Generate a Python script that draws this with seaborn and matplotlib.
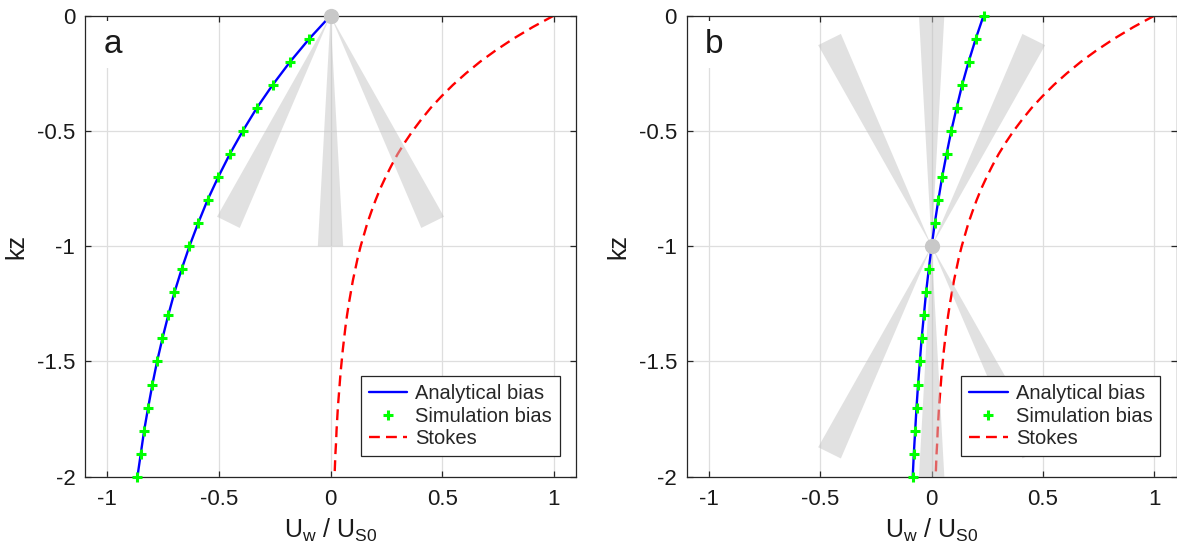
import numpy as np
import pandas as pd
import matplotlib
matplotlib.use("Agg")
import matplotlib.pyplot as plt
from matplotlib.lines import Line2D
import seaborn as sns

# ---- data -------------------------------------------------------------
# depth (kz) at which the bias is evaluated
kz = [0.0, -0.1, -0.2, -0.3, -0.4, -0.5, -0.6, -0.7, -0.8, -0.9, -1.0,
      -1.1, -1.2, -1.3, -1.4, -1.5, -1.6, -1.7, -1.8, -1.9, -2.0]

# panel a: sensor at the surface
bias_a = [0.000, -0.095, -0.181, -0.259, -0.330, -0.393, -0.451, -0.503,
          -0.551, -0.593, -0.632, -0.667, -0.699, -0.727, -0.753, -0.777,
          -0.798, -0.817, -0.835, -0.850, -0.865]
sim_a = [0.000, -0.095, -0.181, -0.259, -0.330, -0.393, -0.451, -0.503,
         -0.551, -0.593, -0.632, -0.667, -0.699, -0.727, -0.753, -0.777,
         -0.798, -0.817, -0.835, -0.850, -0.865]

# panel b: sensor at kz = -1
bias_b = [0.233, 0.198, 0.166, 0.137, 0.112, 0.088, 0.067, 0.047, 0.030,
          0.014, 0.000, -0.013, -0.025, -0.035, -0.045, -0.053, -0.061,
          -0.068, -0.074, -0.080, -0.085]
sim_b = [0.233, 0.198, 0.166, 0.137, 0.112, 0.088, 0.067, 0.047, 0.030,
         0.014, 0.000, -0.013, -0.025, -0.035, -0.045, -0.053, -0.061,
         -0.068, -0.074, -0.080, -0.085]

# Stokes drift profile
kz_stokes = [0.0, -0.05, -0.1, -0.15, -0.2, -0.25, -0.3, -0.35, -0.4, -0.45,
             -0.5, -0.55, -0.6, -0.65, -0.7, -0.75, -0.8, -0.85, -0.9, -0.95,
             -1.0, -1.05, -1.1, -1.15, -1.2, -1.25, -1.3, -1.35, -1.4, -1.45,
             -1.5, -1.55, -1.6, -1.65, -1.7, -1.75, -1.8, -1.85, -1.9, -1.95,
             -2.0]
stokes = [1.000, 0.905, 0.819, 0.741, 0.670, 0.607, 0.549, 0.497, 0.449,
          0.407, 0.368, 0.333, 0.301, 0.273, 0.247, 0.223, 0.202, 0.183,
          0.165, 0.150, 0.135, 0.122, 0.111, 0.100, 0.091, 0.082, 0.074,
          0.067, 0.061, 0.055, 0.050, 0.045, 0.041, 0.037, 0.033, 0.030,
          0.027, 0.025, 0.022, 0.020, 0.018]

panel_labels = ["a", "b"]
sensor_depth = [0.0, -1.0]
legend_labels = ["Analytical bias", "Simulation bias", "Stokes"]
xtick_vals = [-1, -0.5, 0, 0.5, 1]
xtick_text = ["-1", "-0.5", "0", "0.5", "1"]
ytick_vals = [0, -0.5, -1, -1.5, -2]
ytick_text = ["0", "-0.5", "-1", "-1.5", "-2"]

# ---- style ------------------------------------------------------------
sns.set_theme(style="ticks")
plt.rcParams["font.family"] = ["Liberation Sans", "DejaVu Sans"]
plt.rcParams["mathtext.default"] = "regular"
plt.rcParams["axes.unicode_minus"] = False

BLUE = "#0000ff"
GREEN = "#00ff00"
RED = "#ff0000"
AXC = "#262626"
TXT = "#1a1a1a"

fig = plt.figure(figsize=(11.77, 5.52), dpi=100)
axes = [fig.add_axes([0.0722, 0.1364, 0.4172, 0.8352]),
        fig.add_axes([0.5834, 0.1364, 0.4163, 0.8352])]

XLIM = (-1.1, 1.1)
YLIM = (-2.0, 0.0)


def beam(ax, x0, y0, angle_deg, sign, length=1.0, half_width=0.055):
    """Wedge-shaped acoustic beam starting at (x0, y0).

    Angles are taken on screen so the beams look equally long regardless of
    the axis scaling; sign=+1 points down, -1 points up."""
    bb = ax.get_position()
    fw, fh = fig.get_size_inches()
    px_x = bb.width * fw / (XLIM[1] - XLIM[0])
    px_y = bb.height * fh / (YLIM[1] - YLIM[0])
    r = px_y / px_x
    th = np.deg2rad(angle_deg)
    ux, uy = np.sin(th), -sign * np.cos(th)          # unit dir (screen)
    vx, vy = -uy, ux                                  # perpendicular
    ex, ey = ux * length, uy * length
    pts = np.array([[0, 0],
                    [ex + vx * half_width, ey + vy * half_width],
                    [ex - vx * half_width, ey - vy * half_width]])
    xs = x0 + pts[:, 0] * r
    ys = y0 + pts[:, 1]
    ax.fill(xs, ys, facecolor="#c4c4c4", edgecolor="none", alpha=0.5,
            zorder=2.5)


series = [(bias_a, sim_a), (bias_b, sim_b)]

for i, ax in enumerate(axes):
    bias, sim = series[i]
    df = pd.DataFrame({"kz": kz, "bias": bias, "sim": sim})
    ds = pd.DataFrame({"kz": kz_stokes, "stokes": stokes})

    sns.lineplot(data=ds, x="stokes", y="kz", sort=False, estimator=None,
                 ax=ax, color=RED, linewidth=1.7, zorder=2)
    ax.lines[-1].set_dashes((4.6, 2.6))

    # sensor beams
    z0 = sensor_depth[i]
    beam(ax, 0.0, z0, -26.3, +1)
    beam(ax, 0.0, z0, 0.0, +1)
    beam(ax, 0.0, z0, 26.3, +1)
    if z0 < 0:
        beam(ax, 0.0, z0, -26.3, -1)
        beam(ax, 0.0, z0, 0.0, -1)
        beam(ax, 0.0, z0, 26.3, -1)

    sns.lineplot(data=df, x="bias", y="kz", sort=False, estimator=None,
                 ax=ax, color=BLUE, linewidth=1.7, zorder=3)
    sns.scatterplot(data=df, x="sim", y="kz", ax=ax, marker="+", s=60,
                    color=GREEN, linewidth=2.2, zorder=4, clip_on=False)

    # sensor position
    ax.plot([0.0], [z0], "o", color="#c8c8c8", markersize=11,
            markeredgewidth=0, zorder=6, clip_on=False)

    ax.set_xlim(*XLIM)
    ax.set_ylim(*YLIM)
    ax.set_xticks(xtick_vals)
    ax.set_xticklabels(xtick_text)
    ax.set_yticks(ytick_vals)
    ax.set_yticklabels(ytick_text)
    ax.grid(True, color="#dedede", linewidth=0.9)
    ax.set_axisbelow(True)
    for s in ax.spines.values():
        s.set_visible(True)
        s.set_color(AXC)
        s.set_linewidth(0.9)
    ax.tick_params(direction="in", length=4, width=0.9, color=AXC,
                   top=True, right=True, labelsize=16, labelcolor=TXT,
                   pad=7)
    ax.tick_params(axis="x", pad=9)
    ax.set_xlabel(r"U$_{w}$ / U$_{S0}$", fontsize=18, color=TXT,
                  labelpad=5)
    ax.set_ylabel("kz", fontsize=18, color=TXT, labelpad=6)

    ax.text(0.037, 0.919, panel_labels[i], transform=ax.transAxes,
            fontsize=24, ha="left", va="baseline", color=TXT,
            zorder=1,
            bbox=dict(boxstyle="square,pad=0.25", facecolor="white",
                      edgecolor="none"))

    handles = [Line2D([], [], color=BLUE, linewidth=1.7),
               Line2D([], [], color=GREEN, linestyle="none", marker="+",
                      markersize=7, markeredgewidth=2.2),
               Line2D([], [], color=RED, linewidth=1.7, dashes=(4.6, 2.6))]
    leg = ax.legend(handles, legend_labels, loc="lower right",
                    bbox_to_anchor=(0.967, 0.044), borderaxespad=0,
                    fontsize=14.5, frameon=True, fancybox=False,
                    framealpha=1, edgecolor=AXC, handlelength=1.9,
                    handletextpad=0.4, labelspacing=0.18, borderpad=0.4)
    leg.get_frame().set_linewidth(0.9)
    leg.set_zorder(10)

fig.savefig("out.png", dpi=100)
